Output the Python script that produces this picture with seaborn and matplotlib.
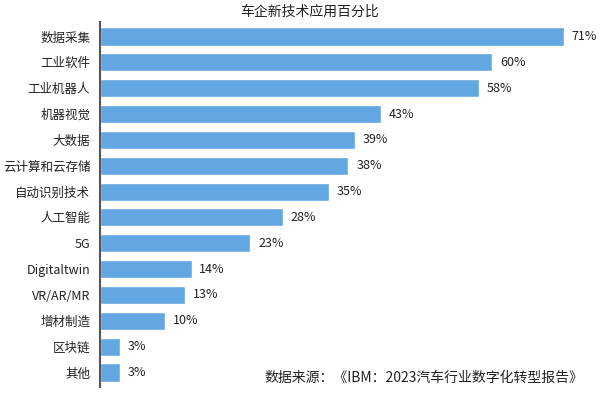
import matplotlib
matplotlib.use('Agg')
import matplotlib.pyplot as plt
import seaborn as sns
import pandas as pd

# data
categories = ['数据采集', '工业软件', '工业机器人', '机器视觉', '大数据', '云计算和云存储',
              '自动识别技术', '人工智能', '5G', 'Digitaltwin', 'VR/AR/MR', '增材制造',
              '区块链', '其他']
values = [71, 60, 58, 43, 39, 38, 35, 28, 23, 14, 13, 10, 3, 3]

title = '车企新技术应用百分比'
source = '数据来源：《IBM：2023汽车行业数字化转型报告》'

sns.set_theme(style='white')
plt.rcParams['font.family'] = ['Noto Sans CJK SC', 'DejaVu Sans']

df = pd.DataFrame({'tech': categories, 'pct': values})

fig = plt.figure(figsize=(6.08, 3.96), dpi=100)
ax = fig.add_axes([100 / 608, 1 - 387 / 396, 500 / 608, 365 / 396])

sns.barplot(data=df, x='pct', y='tech', color='#62a6e2', saturation=1,
            width=0.7, ax=ax)

for i, v in enumerate(values):
    ax.text(v + 1.2, i, f'{v}%', va='center', ha='left', fontsize=9, color='#222222')

ax.set_xlim(0, 76.5)
ax.set_ylim(13.56, -0.56)
ax.set_xlabel('')
ax.set_ylabel('')
ax.set_xticks([])
ax.tick_params(axis='y', length=0, labelsize=9, colors='#222222', pad=7)
for s in ['top', 'right', 'bottom']:
    ax.spines[s].set_visible(False)
ax.spines['left'].set_color('#555555')
ax.spines['left'].set_linewidth(1.5)

fig.text(310 / 608, 1 - 12 / 396, title, ha='center', va='center', fontsize=10, color='#222222')
fig.text(583 / 608, 1 - 378 / 396, source, ha='right', va='center', fontsize=10, color='#222222')

fig.savefig('out.png', dpi=100)
